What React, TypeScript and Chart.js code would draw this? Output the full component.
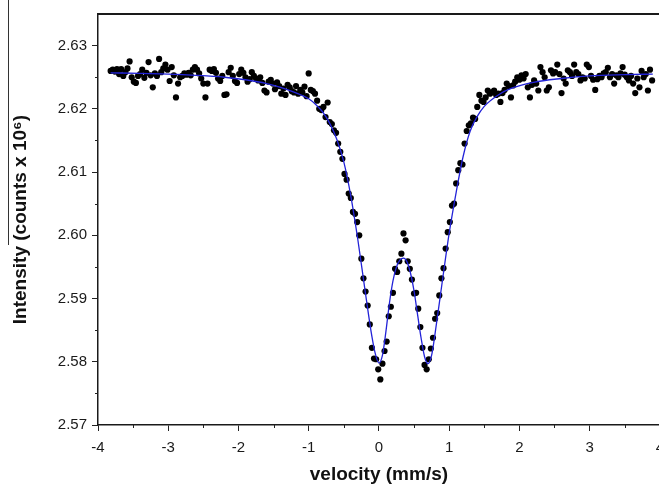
import React, { useEffect, useRef } from "react";
import { Chart, registerables } from "chart.js";

Chart.register(...registerables);

const xMajorTicks = [-4, -3, -2, -1, 0, 1, 2, 3, 4];
const xMinorTicks = [-3.5, -2.5, -1.5, -0.5, 0.5, 1.5, 2.5, 3.5];
const yMajorTicks = [2.57, 2.58, 2.59, 2.6, 2.61, 2.62, 2.63];
const yMinorTicks = [2.575, 2.585, 2.595, 2.605, 2.615, 2.625];

const xTitle = "velocity (mm/s)";
const yTitle = "Intensity (counts x 10\u2076)";

// measured spectrum (velocity mm/s, counts x 10^6)
const leftWing: [number, number][] = [
  [-3.82, 2.626], [-3.79, 2.6262], [-3.76, 2.6259], [-3.73, 2.6263], [-3.7, 2.6255], [-3.67, 2.6263], [-3.64, 2.6252], [-3.61, 2.6258], [-3.58, 2.6264], [-3.55, 2.6275],
  [-3.52, 2.625], [-3.49, 2.6243], [-3.46, 2.6241], [-3.43, 2.6252], [-3.4, 2.6255], [-3.37, 2.6262], [-3.34, 2.6249], [-3.31, 2.6257], [-3.28, 2.6274], [-3.25, 2.6253],
  [-3.22, 2.6234], [-3.19, 2.6256], [-3.16, 2.6252], [-3.13, 2.6279], [-3.1, 2.6258], [-3.07, 2.6264], [-3.04, 2.627], [-3.01, 2.6262], [-2.98, 2.6244], [-2.95, 2.6266],
  [-2.92, 2.6253], [-2.89, 2.6218], [-2.86, 2.624], [-2.83, 2.625], [-2.8, 2.6252], [-2.77, 2.6256], [-2.74, 2.6254], [-2.71, 2.6257], [-2.68, 2.6253], [-2.65, 2.6262],
  [-2.62, 2.6266], [-2.59, 2.6262], [-2.56, 2.6256], [-2.53, 2.6248], [-2.5, 2.624], [-2.47, 2.6218], [-2.44, 2.624], [-2.41, 2.6262], [-2.38, 2.626], [-2.35, 2.6263],
  [-2.32, 2.6257], [-2.29, 2.6248], [-2.26, 2.6244], [-2.23, 2.6252], [-2.2, 2.6222], [-2.17, 2.6223], [-2.14, 2.6258], [-2.11, 2.6265], [-2.08, 2.6252], [-2.05, 2.6244],
  [-2.02, 2.6241], [-1.99, 2.6255], [-1.96, 2.6262], [-1.93, 2.6257], [-1.9, 2.625], [-1.87, 2.6243], [-1.84, 2.6247], [-1.81, 2.6258], [-1.78, 2.6252], [-1.75, 2.6248],
  [-1.72, 2.6245], [-1.69, 2.625], [-1.66, 2.6241], [-1.63, 2.6229], [-1.6, 2.6226], [-1.57, 2.6243], [-1.54, 2.6246], [-1.51, 2.624], [-1.48, 2.6231], [-1.45, 2.6242],
  [-1.42, 2.6236], [-1.39, 2.6224], [-1.36, 2.6232], [-1.33, 2.6222], [-1.3, 2.6238], [-1.27, 2.6234], [-1.24, 2.6228], [-1.21, 2.6226], [-1.18, 2.6236], [-1.15, 2.6224],
  [-1.12, 2.623], [-1.09, 2.6226], [-1.06, 2.6235], [-1.03, 2.622], [-1.0, 2.6256], [-0.97, 2.623], [-0.94, 2.6228], [-0.91, 2.6224], [-0.88, 2.6213], [-0.85, 2.62],
  [-0.82, 2.6198], [-0.79, 2.6203], [-0.76, 2.6187], [-0.73, 2.621], [-0.7, 2.6179], [-0.67, 2.6176], [-0.64, 2.6166], [-0.61, 2.6162], [-0.58, 2.6145], [-0.55, 2.6132],
];

const dipRegion: [number, number][] = [
  [-0.52, 2.6121], [-0.49, 2.6097], [-0.46, 2.6088], [-0.43, 2.6066], [-0.4, 2.6059], [-0.37, 2.6037], [-0.34, 2.6034], [-0.31, 2.6021], [-0.28, 2.6], [-0.25, 2.5963],
  [-0.22, 2.5932], [-0.19, 2.5911], [-0.16, 2.5889], [-0.13, 2.5859], [-0.1, 2.5822], [-0.07, 2.5805], [-0.04, 2.5804], [-0.01, 2.5788], [0.02, 2.5772], [0.05, 2.5797],
  [0.08, 2.5817], [0.11, 2.5832], [0.14, 2.5872], [0.17, 2.5887], [0.2, 2.5909], [0.23, 2.5947], [0.26, 2.5942], [0.29, 2.5959], [0.32, 2.5971], [0.35, 2.6003],
  [0.38, 2.5992], [0.41, 2.5959], [0.44, 2.5947], [0.47, 2.593], [0.5, 2.5908], [0.53, 2.5909], [0.56, 2.5884], [0.59, 2.5855], [0.62, 2.5822], [0.65, 2.5795],
  [0.68, 2.5788], [0.71, 2.5804], [0.74, 2.5821], [0.77, 2.5838], [0.8, 2.5868], [0.83, 2.5877], [0.86, 2.5905], [0.89, 2.5932], [0.92, 2.5948], [0.95, 2.5979],
  [0.98, 2.6005], [1.01, 2.6021], [1.04, 2.6047], [1.07, 2.605], [1.1, 2.6082], [1.13, 2.6103], [1.16, 2.6114], [1.19, 2.6112],
];

const rightWing: [number, number][] = [
  [1.22, 2.6145], [1.25, 2.6165], [1.28, 2.6174], [1.31, 2.6177], [1.34, 2.6186], [1.37, 2.6184], [1.4, 2.6203], [1.43, 2.6222], [1.46, 2.6213], [1.49, 2.6211],
  [1.52, 2.6218], [1.55, 2.6229], [1.58, 2.6224], [1.61, 2.6226], [1.64, 2.6229], [1.67, 2.6222], [1.7, 2.6224], [1.73, 2.6211], [1.76, 2.6225], [1.79, 2.623],
  [1.82, 2.624], [1.85, 2.6236], [1.88, 2.6218], [1.91, 2.6237], [1.94, 2.6243], [1.97, 2.625], [2.0, 2.6246], [2.03, 2.6253], [2.06, 2.6248], [2.09, 2.6255],
  [2.12, 2.6234], [2.15, 2.6218], [2.18, 2.6238], [2.21, 2.6245], [2.24, 2.624], [2.27, 2.6229], [2.3, 2.6266], [2.33, 2.6258], [2.36, 2.625], [2.39, 2.6229],
  [2.42, 2.6234], [2.45, 2.6261], [2.48, 2.6256], [2.51, 2.6258], [2.54, 2.627], [2.57, 2.6255], [2.6, 2.6225], [2.63, 2.6248], [2.66, 2.624], [2.69, 2.6261],
  [2.72, 2.6258], [2.75, 2.6252], [2.78, 2.627], [2.81, 2.6258], [2.84, 2.6255], [2.87, 2.6245], [2.9, 2.625], [2.93, 2.6248], [2.96, 2.627], [2.99, 2.6266],
  [3.02, 2.6252], [3.05, 2.6246], [3.08, 2.623], [3.11, 2.6247], [3.14, 2.6252], [3.17, 2.625], [3.2, 2.6256], [3.23, 2.6258], [3.26, 2.6265], [3.29, 2.625],
  [3.32, 2.6255], [3.35, 2.624], [3.38, 2.6253], [3.41, 2.625], [3.44, 2.6256], [3.47, 2.6266], [3.5, 2.6254], [3.53, 2.625], [3.56, 2.6245], [3.59, 2.6252],
  [3.62, 2.624], [3.65, 2.6225], [3.68, 2.6248], [3.71, 2.6234], [3.74, 2.626], [3.77, 2.625], [3.8, 2.6255], [3.83, 2.6229], [3.86, 2.6262], [3.89, 2.6245],
];

// fitted doublet curve
const fitCurve: [number, number][] = [
  [-3.82, 2.6257], [-3.4, 2.6256], [-3.0, 2.6255], [-2.6, 2.6253], [-2.2, 2.625], [-1.9, 2.6246], [-1.6, 2.624], [-1.4, 2.6234], [-1.2, 2.6226], [-1.0, 2.6216],
  [-0.9, 2.6207], [-0.8, 2.6195], [-0.7, 2.6177], [-0.6, 2.6152], [-0.5, 2.6116], [-0.4, 2.6062], [-0.3, 2.5993], [-0.2, 2.5915], [-0.1, 2.584], [-0.05, 2.5812],
  [0.0, 2.5798], [0.05, 2.581], [0.1, 2.5848], [0.15, 2.5893], [0.2, 2.5928], [0.25, 2.595], [0.3, 2.5961], [0.35, 2.5964], [0.4, 2.5958], [0.45, 2.594],
  [0.5, 2.5912], [0.55, 2.5875], [0.6, 2.5838], [0.65, 2.5808], [0.7, 2.5797], [0.75, 2.581], [0.8, 2.5845], [0.9, 2.5925], [1.0, 2.6003], [1.1, 2.6068],
  [1.2, 2.6125], [1.3, 2.6165], [1.4, 2.6188], [1.5, 2.6204], [1.7, 2.6222], [1.9, 2.6233], [2.2, 2.6242], [2.6, 2.6248], [3.0, 2.6252], [3.5, 2.6254], [3.9, 2.6255],
];

const FONT = "'Liberation Sans', Arial, Helvetica, sans-serif";

const decorPlugin = {
  id: "decor",
  afterDraw(chart: any) {
    const { ctx, chartArea, scales } = chart;
    ctx.save();
    ctx.strokeStyle = "#222";
    ctx.lineWidth = 1;
    ctx.beginPath();
    for (const v of xMinorTicks) {
      const px = Math.round(scales.x.getPixelForValue(v)) + 0.5;
      ctx.moveTo(px, chartArea.bottom);
      ctx.lineTo(px, chartArea.bottom + 3);
    }
    for (const v of yMinorTicks) {
      const py = Math.round(scales.y.getPixelForValue(v)) + 0.5;
      ctx.moveTo(chartArea.left - 3, py);
      ctx.lineTo(chartArea.left, py);
    }
    ctx.stroke();
    // top frame line
    ctx.lineWidth = 2;
    ctx.strokeStyle = "#1a1a1a";
    ctx.beginPath();
    ctx.moveTo(chartArea.left - 1, chartArea.top);
    ctx.lineTo(chart.width, chartArea.top);
    ctx.stroke();
    // overline beside the y title
    ctx.lineWidth = 1;
    ctx.strokeStyle = "#333";
    ctx.beginPath();
    ctx.moveTo(8.5, 0);
    ctx.lineTo(8.5, 245);
    ctx.stroke();
    ctx.restore();
  },
};

export default function App() {
  const ref = useRef<HTMLCanvasElement | null>(null);

  useEffect(() => {
    if (!ref.current) return;
    const toPts = (arr: [number, number][]) => arr.map(([x, y]) => ({ x, y }));
    const measured = [...toPts(leftWing), ...toPts(dipRegion), ...toPts(rightWing)];

    const chart = new Chart(ref.current, {
      type: "scatter",
      data: {
        datasets: [
          {
            label: "fit",
            data: toPts(fitCurve),
            showLine: true,
            borderColor: "#2323d8",
            borderWidth: 1.3,
            pointRadius: 0,
            cubicInterpolationMode: "monotone",
            order: 0,
          } as any,
          {
            label: "data",
            data: measured,
            backgroundColor: "#000",
            borderWidth: 0,
            pointRadius: 3.1,
            order: 1,
          },
        ],
      },
      options: {
        animation: false,
        responsive: false,
        devicePixelRatio: 1,
        layout: { padding: { top: 14, right: 10, left: 0, bottom: 0 } },
        plugins: { legend: { display: false }, tooltip: { enabled: false } },
        scales: {
          x: {
            type: "linear",
            min: -4,
            max: 4,
            afterBuildTicks: (s: any) => {
              s.ticks = xMajorTicks.map((v) => ({ value: v }));
            },
            afterFit: (s: any) => {
              s.height = 59;
            },
            ticks: {
              font: { family: FONT, size: 15 },
              color: "#1a1a1a",
              padding: 8,
              maxRotation: 0,
              callback: (v: any) => String(v),
            },
            grid: { drawOnChartArea: false, drawTicks: true, tickLength: 6, color: "#222", tickColor: "#222" },
            border: { display: true, color: "#1a1a1a", width: 1.5 },
            title: {
              display: true,
              text: xTitle,
              font: { family: FONT, size: 19, weight: "bold", lineHeight: 1.0 },
              color: "#111",
              padding: { top: 0, bottom: 0 },
            },
          },
          y: {
            type: "linear",
            min: 2.57,
            max: 2.635,
            afterBuildTicks: (s: any) => {
              s.ticks = yMajorTicks.map((v) => ({ value: v }));
            },
            afterFit: (s: any) => {
              s.width = 98;
            },
            ticks: {
              font: { family: FONT, size: 15 },
              color: "#1a1a1a",
              padding: 5,
              callback: (v: any) => Number(v).toFixed(2),
            },
            grid: { drawOnChartArea: false, drawTicks: true, tickLength: 6, color: "#222", tickColor: "#222" },
            border: { display: true, color: "#1a1a1a", width: 1.5 },
            title: {
              display: true,
              text: yTitle,
              font: { family: FONT, size: 19, weight: "bold", lineHeight: 1.2 },
              color: "#111",
              padding: { top: 9.6, bottom: 0 },
            },
          },
        },
      },
      plugins: [decorPlugin],
    });
    return () => chart.destroy();
  }, []);

  return (
    <div
      style={{
        position: "fixed",
        left: 0,
        top: 0,
        width: 659,
        height: 484,
        overflow: "hidden",
        background: "#fff",
      }}
    >
      <canvas ref={ref} width={672} height={484} style={{ width: 672, height: 484, display: "block" }} />
    </div>
  );
}
